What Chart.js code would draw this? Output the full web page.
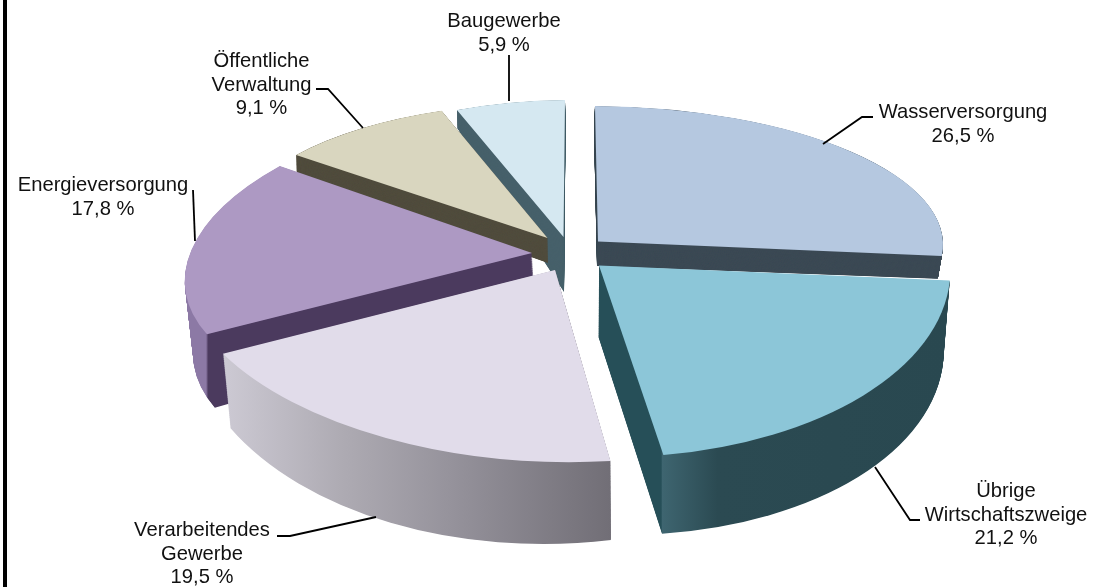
<!DOCTYPE html>
<html lang="de">
<head>
<meta charset="utf-8">
<title>Wirtschaftszweige</title>
<script src="https://cdn.jsdelivr.net/npm/chart.js@4"></script>
<style>
    html, body { margin: 0; padding: 0; background: #fff; overflow: hidden; }
    #wrap { position: relative; width: 1097px; height: 587px; }
    #frame { position: absolute; left: 3px; top: 0; bottom: 0; width: 4px; background: #000; }
</style>
</head>
<body>
<div id="wrap">
    <canvas id="pie" width="1097" height="587"></canvas>
    <div id="frame"></div>
</div>
<script>
const categories = ['Wasserversorgung', 'Übrige Wirtschaftszweige', 'Verarbeitendes Gewerbe', 'Energieversorgung', 'Öffentliche Verwaltung', 'Baugewerbe'];
const values = [26.5, 21.2, 19.5, 17.8, 9.1, 5.9];
const labelLines = [['Wasserversorgung'], ['Übrige', 'Wirtschaftszweige'], ['Verarbeitendes', 'Gewerbe'], ['Energieversorgung'], ['Öffentliche', 'Verwaltung'], ['Baugewerbe']];
const topColours = ['#b5c8e0', '#8cc6d8', '#e1dcea', '#ad99c3', '#d9d6bf', '#d5e8f1'];

// Where each label goes: centre x, first baseline
const labelPos = [[963, 118], [1006, 497], [202, 536], [103, 191], [261.5, 67], [504, 27]];
const leaders = [
    [[873, 117], [862, 117], [823, 144]],
    [[875, 467], [910, 520], [920, 520]],
    [[277, 536], [290, 536], [376, 517]],
    [[193, 190], [195, 241]],
    [[316, 89], [328, 89], [363, 128]],
    [[509, 55], [509, 101]]
];

// The 3D look: each slice gets its own projection of the unit circle, for top and bottom of the wall
// [ax, ay, bx, by, ex, ey]
const topViews = [
    [345, 1.8, 3, 135.5, 598, 241.5],
    [351, -3, 14, 192, 599, 265.5],
    [377, 7.5, 1.2, 192, 555, 270],
    [344.4, -7.6, -45, 158.5, 532, 253],
    [318, 4.7, -10, 134.7, 547.5, 238],
    [298, -2, -1.5, 137, 563.5, 237]
];
const bottomViews = [
    [342, 0, 3, 135.5, 597, 266],
    [345, 5, 14, 198, 598.5, 337],
    [370, -9, 1.7, 233.8, 556, 310],
    [340, -17, -45, 165, 536, 315],
    [318, 14, -10, 134, 548, 263],
    [298, 30, -1.5, 164, 564, 292]
];

// Wall shading by screen x: [x from, x to, stops]
const wallShades = [
    '#3c4a55',
    [598, 950, [[0, '#264f58'], [0.1795, '#264f58'], [0.1825, '#3e6570'], [0.34, '#2b4a52'], [1, '#294850']]],
    [225, 612, [[0, '#ccc9d3'], [0.3, '#aeabb3'], [0.6, '#94919a'], [1, '#716e76']]],
    [185, 536, [[0, '#8c79a5'], [0.06, '#8c79a5'], [0.066, '#4b3a5e'], [1, '#4b3a5e']]],
    '#514d3e',
    '#46606a'
];
const drawOrder = [5, 4, 0, 3, 1, 2];
const wallLayers = 110;

function mix(a, b, t) {
    return a.map((v, i) => v + (b[i] - v) * t);
}

// Draw one arc of the chart through a projection, in the colour asked for
function drawArc(ctx, arc, view, paint) {
    const R = arc.outerRadius;
    const [ax, ay, bx, by, ex, ey] = view;
    ctx.setTransform(ax / R, ay / R, bx / R, by / R,
        ex - (ax * arc.x + bx * arc.y) / R,
        ey - (ay * arc.x + by * arc.y) / R);
    let fill = paint;
    if (Array.isArray(paint)) {
        // linear gradient that runs along screen x whatever the shear is
        const gx = ax / R, gy = bx / R, G = gx * gx + gy * gy;
        const at = X => [arc.x + gx * (X - ex) / G, arc.y + gy * (X - ex) / G];
        const p0 = at(paint[0]), p1 = at(paint[1]);
        fill = ctx.createLinearGradient(p0[0], p0[1], p1[0], p1[1]);
        paint[2].forEach(s => fill.addColorStop(s[0], s[1]));
    }
    const copy = Object.create(arc);
    copy.options = { ...arc.options, backgroundColor: fill, borderWidth: 0 };
    Chart.ArcElement.prototype.draw.call(copy, ctx);
}

const pie3d = {
    id: 'pie3d',
    beforeDatasetsDraw(chart) {
        const ctx = chart.ctx;
        const arcs = chart.getDatasetMeta(0).data;
        ctx.save();
        drawOrder.forEach(i => {
            for (let n = 0; n < wallLayers; n++) {
                drawArc(ctx, arcs[i], mix(bottomViews[i], topViews[i], n / wallLayers), wallShades[i]);
            }
            drawArc(ctx, arcs[i], topViews[i], topColours[i]);
        });
        ctx.restore();
        return false;
    },
    afterDraw(chart) {
        const ctx = chart.ctx;
        ctx.save();
        ctx.strokeStyle = '#000';
        ctx.lineWidth = 1.8;
        leaders.forEach(line => {
            ctx.beginPath();
            line.forEach((p, k) => k ? ctx.lineTo(p[0], p[1]) : ctx.moveTo(p[0], p[1]));
            ctx.stroke();
        });
        ctx.fillStyle = '#111';
        ctx.font = '20.2px "Liberation Sans", Arial, sans-serif';
        ctx.textAlign = 'center';
        labelLines.forEach((lines, i) => {
            const text = lines.concat(values[i].toFixed(1).replace('.', ',') + ' %');
            text.forEach((t, k) => ctx.fillText(t, labelPos[i][0], labelPos[i][1] + k * 23.6));
        });
        ctx.restore();
    }
};

new Chart(document.getElementById('pie'), {
    type: 'pie',
    data: {
        labels: categories,
        datasets: [{ data: values, backgroundColor: topColours, borderWidth: 0 }]
    },
    options: {
        responsive: false,
        animation: false,
        plugins: { legend: { display: false }, tooltip: { enabled: false } }
    },
    plugins: [pie3d]
});
</script>
</body>
</html>
